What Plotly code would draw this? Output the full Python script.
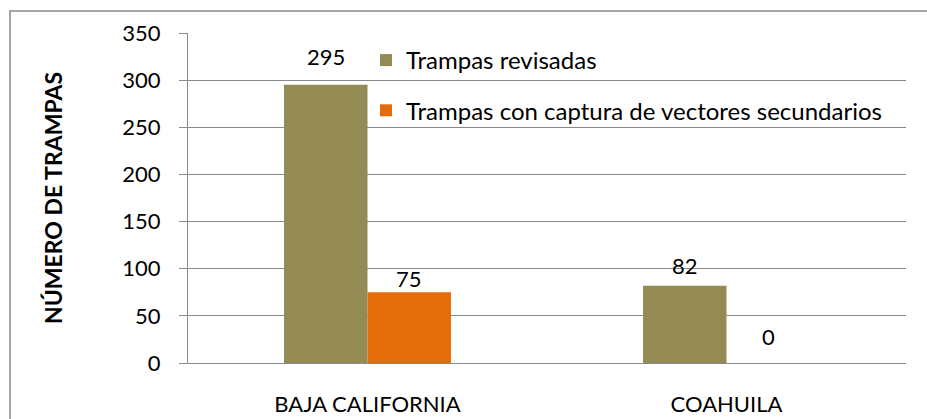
import plotly.graph_objects as go

categories = ["BAJA CALIFORNIA", "COAHUILA"]
series_names = ["Trampas revisadas", "Trampas con captura de vectores secundarios"]
revisadas = [295, 82]
con_captura = [75, 0]
y_ticks = [0, 50, 100, 150, 200, 250, 300, 350]

# label placement styling (pixel offsets above bar tops)
label_shift_revisadas = [28, 20]
label_shift_captura = [14, 27]

FONT = "Lato, Open Sans, sans-serif"
FS = 22
GRAY = "#898989"

fig = go.Figure()
fig.add_trace(go.Bar(
    x=categories, y=revisadas, name=series_names[0],
    marker=dict(color="#948A54", line=dict(width=0)),
    legendgroup="a",
))
fig.add_trace(go.Bar(
    x=categories, y=con_captura, name=series_names[1],
    marker=dict(color="#E46C0A", line=dict(width=0)),
    legendgroup="b",
))

L, R, T, B = 188, 906, 33, 363
W, H = 927, 419
pw, ph = R - L, B - T
cat_w = pw / len(categories)
bargap = 0.535
bar_w = cat_w * (1 - bargap) / 2

def px_x(px):
    return (px - L) / pw

def px_y(py):
    return (B - py) / ph

for vals, shifts, sign in ((revisadas, label_shift_revisadas, -1), (con_captura, label_shift_captura, 1)):
    for c, v, s in zip(categories, vals, shifts):
        fig.add_annotation(x=c, y=v, xref="x", yref="y", text=str(v), showarrow=False,
                           xshift=sign * bar_w / 2, yshift=s, yanchor="middle",
                           font=dict(size=FS, color="black", family=FONT))

fig.add_annotation(xref="paper", yref="paper", x=px_x(53), y=px_y(198), text="<b>NÚMERO DE TRAMPAS</b>",
                   textangle=-90, showarrow=False, xanchor="center", yanchor="middle",
                   font=dict(size=23, color="black", family=FONT))

fig.add_shape(type="path", xref="paper", yref="paper",
              path=f"M {px_x(10)},{px_y(440)} L {px_x(10)},{px_y(11)} L {px_x(940)},{px_y(11)}",
              line=dict(color=GRAY, width=1.5))

fig.update_layout(
    width=W, height=H,
    margin=dict(l=L, r=W - R, t=T, b=H - B, pad=0, autoexpand=False),
    paper_bgcolor="white", plot_bgcolor="white",
    barmode="group", bargap=bargap, bargroupgap=0,
    font=dict(family=FONT, size=FS, color="black"),
    showlegend=True,
    legend=dict(x=px_x(366), y=px_y(38), xanchor="left", yanchor="top",
                bgcolor="rgba(0,0,0,0)", font=dict(size=24, family=FONT, color="black"),
                tracegroupgap=16, itemwidth=30, traceorder="grouped"),
    yaxis=dict(range=[0, 350], tickvals=y_ticks, showgrid=True, gridcolor=GRAY, gridwidth=1,
               showline=True, linecolor=GRAY, linewidth=1, ticks="outside", ticklen=8,
               tickcolor=GRAY, zeroline=False, tickfont=dict(size=FS, color="black"),
               ticklabelstandoff=14, automargin=False),
    xaxis=dict(showline=True, linecolor=GRAY, linewidth=1, ticks="", tickfont=dict(size=FS, color="black"),
               showgrid=False, ticklabelstandoff=22, automargin=False),
)

fig.write_html("out.html", config={"displayModeBar": False},
               post_script="document.body.style.margin='0';document.body.style.padding='0';")
